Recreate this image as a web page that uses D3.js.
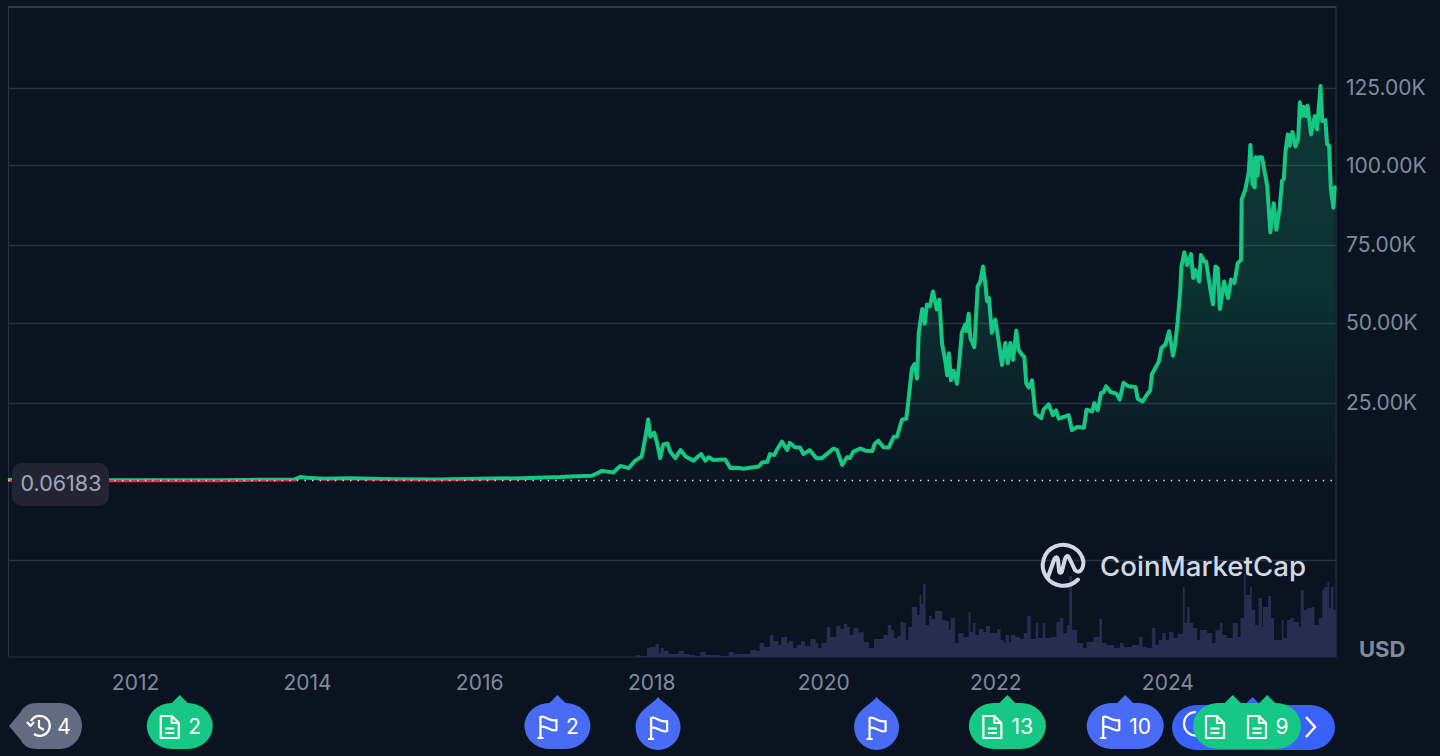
<!DOCTYPE html>
<html><head><meta charset="utf-8">
<script src="https://cdn.jsdelivr.net/npm/d3@7"></script>
<style>
html,body{margin:0;padding:0;background:#0a1421;overflow:hidden}
svg{display:block;font-family:Inter,"Noto Sans",sans-serif}
</style></head><body><svg id="c" width="1440" height="756"></svg>
<script>
const priceDates=[2010.53,2011.0,2011.45,2012.0,2013.0,2013.3,2013.85,2013.92,2014.0,2014.2,2014.5,2015.0,2015.5,2016.0,2016.5,2016.94,2017.14,2017.31,2017.43,2017.56,2017.64,2017.74,2017.81,2017.89,2017.94,2017.965,2017.99,2018.035,2018.07,2018.105,2018.14,2018.19,2018.22,2018.28,2018.34,2018.40,2018.49,2018.58,2018.63,2018.67,2018.72,2018.86,2018.92,2019.0,2019.07,2019.17,2019.25,2019.29,2019.35,2019.38,2019.43,2019.46,2019.52,2019.58,2019.61,2019.67,2019.73,2019.77,2019.84,2019.92,2019.985,2020.12,2020.16,2020.22,2020.275,2020.31,2020.35,2020.43,2020.49,2020.57,2020.60,2020.64,2020.70,2020.76,2020.82,2020.857,2020.915,2020.965,2020.99,2021.03,2021.06,2021.09,2021.11,2021.15,2021.18,2021.205,2021.24,2021.275,2021.32,2021.35,2021.38,2021.42,2021.44,2021.46,2021.485,2021.515,2021.555,2021.585,2021.61,2021.65,2021.663,2021.69,2021.71,2021.756,2021.795,2021.825,2021.857,2021.888,2021.903,2021.926,2021.96,2022.0,2022.05,2022.078,2022.116,2022.144,2022.175,2022.206,2022.244,2022.27,2022.31,2022.337,2022.36,2022.388,2022.427,2022.465,2022.535,2022.56,2022.62,2022.67,2022.706,2022.737,2022.853,2022.89,2022.95,2023.03,2023.06,2023.125,2023.15,2023.19,2023.23,2023.26,2023.287,2023.34,2023.407,2023.446,2023.49,2023.55,2023.63,2023.655,2023.713,2023.763,2023.80,2023.82,2023.9,2023.93,2023.977,2024.02,2024.066,2024.09,2024.12,2024.15,2024.163,2024.197,2024.23,2024.275,2024.30,2024.325,2024.37,2024.39,2024.43,2024.45,2024.50,2024.53,2024.558,2024.585,2024.61,2024.66,2024.705,2024.74,2024.78,2024.817,2024.856,2024.864,2024.907,2024.946,2024.965,2024.99,2025.015,2025.023,2025.05,2025.06,2025.10,2025.16,2025.197,2025.236,2025.267,2025.306,2025.333,2025.353,2025.372,2025.40,2025.42,2025.453,2025.488,2025.52,2025.54,2025.566,2025.585,2025.612,2025.63,2025.67,2025.713,2025.74,2025.78,2025.80,2025.837,2025.856,2025.88,2025.90,2025.93,2025.945];
const priceValues=[0.06,0.3,0.02,0.005,0.013,0.1,0.2,1.0,0.8,0.5,0.6,0.3,0.25,0.43,0.65,1.0,1.3,1.43,3.0,2.5,4.6,3.9,6.2,7.6,15.0,19.5,14.0,15.3,11.8,7.1,11.5,11.8,9.2,7.1,9.7,7.6,6.3,8.4,6.3,7.4,6.5,6.7,3.9,4.0,3.7,4.1,4.4,5.7,5.9,8.4,8.1,9.7,12.4,9.7,12.0,10.6,10.5,8.4,9.7,7.1,7.1,10.2,9.7,4.9,7.4,7.1,9.2,10.2,9.5,9.4,11.8,12.7,10.6,10.5,14.0,14.0,19.5,19.8,25.6,35.7,37.1,32.5,46.9,54.5,49.8,55.9,55.4,60.1,54.3,57.5,43.7,37.8,33.6,40.5,32.0,35.0,30.9,38.9,46.9,49.5,47.4,53.0,45.3,42.4,61.7,63.3,68.1,61.7,57.0,58.0,46.9,51.1,42.1,36.8,43.7,37.3,43.7,38.4,47.6,41.6,40.0,39.4,30.9,29.7,32.0,21.4,20.0,22.7,24.4,20.9,22.5,19.8,20.9,16.1,17.1,16.9,22.7,22.1,24.8,22.5,28.0,28.3,30.1,28.3,27.8,25.9,31.2,30.1,29.9,26.2,25.3,27.5,28.8,33.9,37.8,42.1,43.2,47.4,39.7,43.2,50.6,60.7,68.1,72.7,68.6,72.1,64.4,67.0,63.3,71.8,69.7,69.7,60.7,56.0,68.1,67.6,54.5,63.3,58.0,63.9,62.8,69.2,70.2,89.3,92.5,97.8,106.6,94.1,93.1,102.6,96.8,102.6,102.6,93.6,79.0,88.1,79.8,86.7,95.2,95.7,104.2,110.0,106.3,110.8,106.1,108.5,120.4,115.9,118.9,115.9,119.3,110.0,115.9,111.6,125.6,114.3,114.6,106.9,106.3,92.5,86.7,93.1];
const volumeDates=[2017.83,2017.87,2017.95,2017.99,2018.05,2018.09,2018.11,2018.15,2018.20,2018.32,2018.38,2018.45,2018.51,2018.57,2018.63,2018.74,2018.80,2018.90,2018.96,2019.13,2019.15,2019.23,2019.26,2019.31,2019.38,2019.42,2019.48,2019.51,2019.58,2019.60,2019.65,2019.69,2019.74,2019.79,2019.85,2019.91,2019.94,2019.98,2020.04,2020.08,2020.15,2020.2,2020.24,2020.28,2020.31,2020.35,2020.41,2020.43,2020.47,2020.53,2020.59,2020.64,2020.70,2020.75,2020.79,2020.82,2020.86,2020.90,2020.93,2020.96,2020.99,2021.03,2021.06,2021.09,2021.12,2021.14,2021.16,2021.19,2021.23,2021.26,2021.30,2021.34,2021.38,2021.42,2021.46,2021.48,2021.53,2021.57,2021.63,2021.69,2021.71,2021.74,2021.77,2021.81,2021.86,2021.89,2021.94,2022.02,2022.06,2022.10,2022.12,2022.16,2022.18,2022.23,2022.29,2022.33,2022.37,2022.41,2022.47,2022.50,2022.55,2022.58,2022.64,2022.71,2022.75,2022.79,2022.83,2022.86,2022.89,2022.95,2023.02,2023.06,2023.14,2023.21,2023.24,2023.29,2023.38,2023.45,2023.49,2023.59,2023.67,2023.71,2023.76,2023.82,2023.86,2023.90,2023.94,2023.98,2024.02,2024.07,2024.12,2024.18,2024.20,2024.23,2024.26,2024.30,2024.345,2024.38,2024.46,2024.52,2024.56,2024.61,2024.64,2024.69,2024.76,2024.82,2024.85,2024.89,2024.91,2024.96,2024.98,2025.02,2025.06,2025.10,2025.11,2025.17,2025.205,2025.24,2025.33,2025.35,2025.39,2025.43,2025.47,2025.53,2025.55,2025.585,2025.62,2025.68,2025.71,2025.76,2025.80,2025.82,2025.86,2025.88,2025.90,2025.93,2025.96];
const volumeValues=[2,1,9,10,13,4,9,6,3,6,3,2,1,5,2,2,1,5,3,3,7,6,14,10,22,16,12,20,14,16,9,12,16,11,18,14,9,14,30,20,31,28,33,30,22,29,24,25,15,9,18,18,22,32,27,19,21,35,34,17,30,50,50,42,62,53,73,32,41,38,46,46,37,36,27,39,14,24,20,45,25,34,22,28,25,31,24,28,17,14,22,15,22,20,18,24,41,18,34,19,34,19,20,35,39,24,32,81,27,14,9,15,20,38,14,12,9,14,10,12,20,10,9,29,12,17,24,17,25,19,23,70,34,50,34,29,17,27,24,14,27,34,22,19,34,20,39,82,62,70,47,32,59,30,50,61,39,17,37,19,37,39,35,30,67,47,49,50,32,39,67,70,75,49,70,47,54];
const yearTicks=[2012,2014,2016,2018,2020,2022,2024];
const priceTicks=[125,100,75,50,25];
const gridValues=[125,100,75,50,25,-25];
const baseValue=0.06183;
const baseLabel="0.06183";
const currencyLabel="USD";
const brandLabel="CoinMarketCap";
const markerDates=[2012.52,2016.91,2018.08,2020.62,2022.14,2023.51,2024.99];
const markerKinds=["doc","flag","flag","flag","doc","flag","flag"];
const markerCounts=["2","2","","","13","10",""];

const W=1336,L=8,T=7,B=657,splitY=480;
const svg=d3.select("#c");
const x=d3.scaleLinear().domain([2010.5233,2025.96]).range([L,W]);
const y=d3.scaleLinear().domain([-56,-25,0,25,50,75,100,125,150.7]).range([B,560,480.2,402.5,323,245,165.3,88,T]);
const v=d3.scaleLinear().domain([0,100]).range([B,B-100]);
const price=priceDates.map((d,i)=>({d,p:priceValues[i]}));
const vol=volumeDates.map((d,i)=>({d,p:volumeValues[i]}));

const defs=svg.append("defs");
const g=defs.append("linearGradient").attr("id","fillG").attr("gradientUnits","userSpaceOnUse")
 .attr("x1",0).attr("x2",0).attr("y1",y(125)).attr("y2",y(0));
[[0,.2],[.5,.17],[.8,.07],[1,.01]].forEach(s=>g.append("stop").attr("offset",s[0]).attr("stop-color","#16c784").attr("stop-opacity",s[1]));
defs.append("clipPath").attr("id","above").append("rect").attr("x",L).attr("y",T).attr("width",W-L+1).attr("height",splitY-T);
defs.append("clipPath").attr("id","below").append("rect").attr("x",L).attr("y",splitY).attr("width",W-L+1).attr("height",B-splitY);

// frame + grid
const gridC="#283240";
svg.append("g").selectAll("line").data(gridValues).join("line")
 .attr("x1",L).attr("x2",W).attr("y1",d=>Math.round(y(d))+.5).attr("y2",d=>Math.round(y(d))+.5)
 .attr("stroke",gridC).attr("stroke-width",1.3);
svg.append("path").attr("d",`M${L+.5},${T}V${B}H${W}V${T}Z`).attr("fill","none").attr("stroke",gridC).attr("stroke-width",1.2);
svg.append("line").attr("x1",L).attr("x2",W).attr("y1",T).attr("y2",T).attr("stroke","#2f3947").attr("stroke-width",2);

// volume
svg.append("path").datum(vol).attr("fill","#262e50")
 .attr("d",d3.area().x(d=>x(d.d)).y0(B).y1(d=>v(d.p)).curve(d3.curveStepAfter));

// price area + line
svg.append("path").datum(price).attr("fill","url(#fillG)")
 .attr("d",d3.area().x(d=>x(d.d)).y0(y(0)).y1(d=>y(d.p)));
const lineGen=d3.line().x(d=>x(d.d)).y(d=>y(d.p));
svg.append("path").datum(price).attr("fill","none").attr("stroke","#16c784").attr("stroke-width",4)
 .attr("stroke-linejoin","round").attr("stroke-linecap","round").attr("clip-path","url(#above)").attr("d",lineGen);
svg.append("path").datum(price).attr("fill","none").attr("stroke","#ee2748").attr("stroke-width",4)
 .attr("stroke-linejoin","round").attr("clip-path","url(#below)").attr("d",lineGen);
svg.append("line").attr("x1",L).attr("x2",W).attr("y1",480.5).attr("y2",480.5)
 .attr("stroke","#d5dae6").attr("stroke-width",1.5).attr("stroke-dasharray","1.5 6.1");

// base label
svg.append("rect").attr("x",12).attr("y",463).attr("width",97).attr("height",43).attr("rx",10).attr("fill","#222531");
svg.append("text").attr("x",61).attr("y",485).attr("text-anchor","middle").attr("dominant-baseline","middle")
 .attr("font-size",21.5).attr("fill","#a1a7bb").text(baseLabel);

// axes
const ax=svg.append("g").attr("transform",`translate(0,${B})`)
 .call(d3.axisBottom(x).tickValues(yearTicks).tickFormat(String).tickSize(0).tickPadding(18));
ax.select(".domain").remove();
const ay=svg.append("g").attr("transform",`translate(${W},0)`)
 .call(d3.axisRight(y).tickValues(priceTicks).tickFormat(d=>d.toFixed(2)+"K").tickSize(0).tickPadding(10));
ay.select(".domain").remove();
svg.selectAll(".tick text").attr("font-family","Inter").attr("font-size",21).attr("fill","#808a9d");
svg.append("text").attr("x",1359).attr("y",657).attr("font-size",22).attr("font-weight",700).attr("fill","#808a9d").text(currencyLabel);

// brand
const brand=svg.append("g").attr("fill","none").attr("stroke","#d3d8e6");
brand.append("path").attr("stroke-width",4).attr("stroke-linecap","round").attr("stroke-linejoin","round")
 .attr("d","M1078,579.5A20.5,20.5 0 1 1 1083.5,562C1083,573 1076,574 1074,568L1069,557.5C1068,555 1066,556 1065,559L1062,571C1061,574 1059,573 1059,570L1058,560C1057,556 1055,557 1054,560L1048,577");
svg.append("text").attr("x",1100).attr("y",576).attr("font-family","Inter").attr("font-size",27).attr("font-weight",500)
 .attr("fill","#d3d8e6").attr("textLength",206).attr("lengthAdjust","spacingAndGlyphs").text(brandLabel);

// markers
const BLUE="#4a6cf5",WIDE="#3a62fb",GREEN="#17c784",GRAY="#626b81";
function docIcon(p,cx,cy){
 p.append("path").attr("d",`M${cx-9},${cy-11}H${cx+2}L${cx+9},${cy-4}V${cy+11}H${cx-9}Z M${cx+2},${cy-11}V${cy-4}H${cx+9} M${cx-4.5},${cy+1.5}H${cx+4.5} M${cx-4.5},${cy+6}H${cx+4.5}`)
  .attr("fill","none").attr("stroke","#fff").attr("stroke-width",2.2).attr("stroke-linejoin","round");
}
function flagIcon(p,cx,cy){
 p.append("path").attr("d",`M${cx-7},${cy+11}V${cy-10}C${cx-2},${cy-12} ${cx+1},${cy-5} ${cx+9},${cy-7}V${cy+3}C${cx+3},${cy+5} ${cx-1},${cy-2} ${cx-7},${cy} M${cx-10},${cy+11}H${cx-4}`)
  .attr("fill","none").attr("stroke","#fff").attr("stroke-width",2.2).attr("stroke-linejoin","round");
}
function clockIcon(p,cx,cy){
 p.append("path").attr("d",`M${cx-8},${cy-5}A10,10 0 1 1 ${cx-5},${cy+8} M${cx},${cy-6}V${cy+1}L${cx+5},${cy+4} M${cx-12},${cy-4}L${cx-8.5},${cy}L${cx-5},${cy-4}`)
  .attr("fill","none").attr("stroke","#fff").attr("stroke-width",2.2).attr("stroke-linejoin","round");
}
function label(p,tx,t){p.append("text").attr("x",tx).attr("y",733.5).attr("text-anchor","middle").attr("font-size",21).attr("fill","#fff").text(t);}
function pill(p,x0,x1,fill,tips,top=703,bot=749){
 p.append("rect").attr("x",x0).attr("y",top).attr("width",x1-x0).attr("height",bot-top).attr("rx",25).attr("ry",23).attr("fill",fill);
 tips.forEach(t=>p.append("path").attr("d",`M${t-10},${top+2}L${t},${top-8}L${t+10},${top+2}Z`).attr("fill",fill));
}
function drop(p,cx,fill){
 p.append("path").attr("fill",fill).attr("d",`M${cx},697C${cx+6},705 ${cx+22.5},711 ${cx+22.5},727A22.5,23 0 0 1 ${cx-22.5},727C${cx-22.5},711 ${cx-6},705 ${cx},697Z`);
}
const M=svg.append("g");
// history bubble
M.append("path").attr("fill",GRAY).attr("d","M9,726L20,713C23,708 26,703 38,703H60A22,23 0 0 1 60,749H38C26,749 23,744 20,739Z");
clockIcon(M,39,726);label(M,64,"4");

markerDates.forEach((d,i)=>{
 const tip=x(d),k=markerKinds[i],c=markerCounts[i],fill=k==="doc"?GREEN:BLUE;
 if(i===6) return;
 const g=M.append("g");
 if(c===""){drop(g,tip,fill);flagIcon(g,tip,728);return;}
 const hw=c.length>1?38.5:33;
 pill(g,tip-hw,tip+hw,fill,[tip]);
 const off=c.length>1?-15:-10;
 if(k==="doc")docIcon(g,tip+off,727);else flagIcon(g,tip+off,727);
 label(g,tip+15,c);
});
// clustered group at right
const cl=M.append("g");
pill(cl,1172,1335,WIDE,[x(markerDates[6])],705,750);
cl.append("path").attr("d","M1200,735C1190,738 1184,730 1184,724C1184,716 1190,712 1196,712").attr("fill","none").attr("stroke","#fff").attr("stroke-width",2.2);
cl.append("path").attr("d","M1306,717L1315,727L1306,737").attr("fill","none").attr("stroke","#fff").attr("stroke-width",2.4);
const cg=M.append("g");
pill(cg,1193,1301,GREEN,[x(2024.76),x(2025.16)]);
docIcon(cg,1215,727);docIcon(cg,1257,727);label(cg,1282,"9");
</script></body></html>
